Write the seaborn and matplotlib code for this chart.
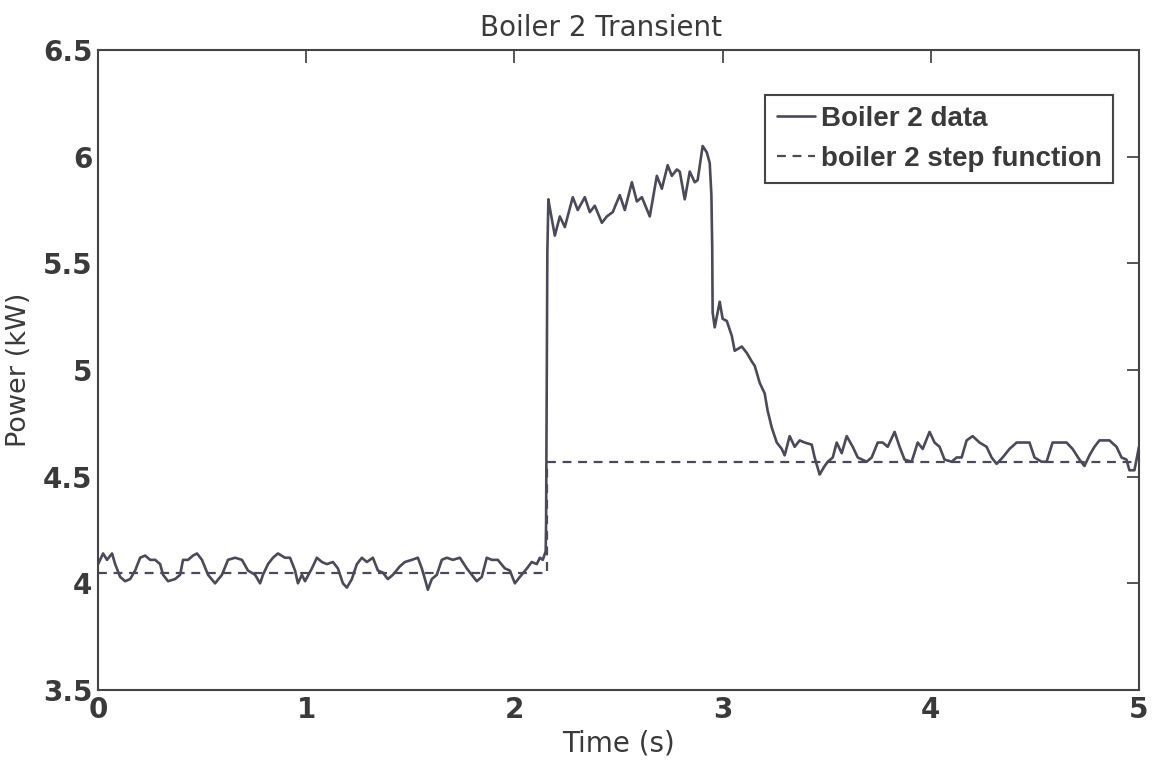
import matplotlib
matplotlib.use("Agg")
import matplotlib.pyplot as plt
import seaborn as sns
import pandas as pd
from matplotlib.ticker import FuncFormatter

# ---- data ----
time_s = [
    0.000, 0.024, 0.043, 0.067, 0.082, 0.106, 0.130, 0.154, 0.178, 0.202,
    0.226, 0.250, 0.274, 0.298, 0.312, 0.336, 0.370, 0.394, 0.408, 0.432,
    0.456, 0.475, 0.499, 0.528, 0.562, 0.595, 0.624, 0.658, 0.691, 0.720,
    0.754, 0.778, 0.792, 0.816, 0.840, 0.864, 0.898, 0.922, 0.946, 0.960,
    0.979, 0.994, 1.027, 1.051, 1.075, 1.099, 1.128, 1.152, 1.176, 1.195,
    1.219, 1.243, 1.267, 1.291, 1.320, 1.344, 1.368, 1.392, 1.416, 1.450,
    1.474, 1.507, 1.536, 1.555, 1.570, 1.584, 1.603, 1.627, 1.651, 1.675,
    1.704, 1.738, 1.771, 1.795, 1.819, 1.843, 1.867, 1.891, 1.920, 1.954,
    1.978, 2.002, 2.026, 2.060, 2.083, 2.107, 2.122, 2.136, 2.150, 2.152,
    2.155, 2.158, 2.163, 2.166, 2.194, 2.218, 2.242, 2.280, 2.304, 2.338,
    2.362, 2.386, 2.420, 2.444, 2.472, 2.506, 2.530, 2.564, 2.588, 2.612,
    2.650, 2.684, 2.708, 2.736, 2.756, 2.780, 2.794, 2.818, 2.842, 2.866,
    2.880, 2.904, 2.924, 2.938, 2.946, 2.950, 2.952, 2.962, 2.972, 2.986,
    3.000, 3.020, 3.044, 3.058, 3.092, 3.116, 3.140, 3.154, 3.178, 3.202,
    3.216, 3.236, 3.260, 3.284, 3.298, 3.322, 3.346, 3.370, 3.394, 3.428,
    3.442, 3.466, 3.490, 3.505, 3.529, 3.548, 3.572, 3.596, 3.625, 3.649,
    3.692, 3.716, 3.745, 3.769, 3.793, 3.826, 3.850, 3.874, 3.908, 3.937,
    3.961, 3.994, 4.018, 4.042, 4.066, 4.100, 4.124, 4.148, 4.172, 4.201,
    4.234, 4.268, 4.292, 4.316, 4.345, 4.378, 4.412, 4.441, 4.474, 4.498,
    4.532, 4.556, 4.585, 4.618, 4.652, 4.681, 4.714, 4.738, 4.762, 4.786,
    4.810, 4.858, 4.892, 4.916, 4.940, 4.954, 4.978, 5.000,
]
power_kw = [
    4.09, 4.14, 4.11, 4.14, 4.09, 4.03, 4.01, 4.02, 4.06, 4.12,
    4.13, 4.11, 4.11, 4.09, 4.04, 4.01, 4.02, 4.04, 4.11, 4.11,
    4.13, 4.14, 4.11, 4.04, 4.00, 4.04, 4.11, 4.12, 4.11, 4.06,
    4.04, 4.00, 4.04, 4.09, 4.12, 4.14, 4.12, 4.12, 4.06, 4.00,
    4.04, 4.01, 4.07, 4.12, 4.10, 4.09, 4.10, 4.07, 4.00, 3.98,
    4.02, 4.09, 4.12, 4.10, 4.12, 4.06, 4.05, 4.02, 4.04, 4.08,
    4.10, 4.11, 4.12, 4.07, 4.02, 3.97, 4.02, 4.04, 4.11, 4.12,
    4.11, 4.12, 4.07, 4.04, 4.01, 4.03, 4.12, 4.11, 4.11, 4.07,
    4.06, 4.00, 4.03, 4.07, 4.10, 4.09, 4.12, 4.11, 4.15, 4.28,
    4.88, 5.55, 5.80, 5.78, 5.63, 5.72, 5.67, 5.81, 5.75, 5.81,
    5.74, 5.77, 5.69, 5.72, 5.74, 5.82, 5.75, 5.88, 5.79, 5.81,
    5.72, 5.91, 5.85, 5.96, 5.91, 5.94, 5.93, 5.80, 5.93, 5.88,
    5.89, 6.05, 6.02, 5.97, 5.82, 5.57, 5.27, 5.20, 5.25, 5.32,
    5.24, 5.23, 5.16, 5.09, 5.11, 5.08, 5.04, 5.02, 4.94, 4.89,
    4.81, 4.73, 4.66, 4.63, 4.60, 4.69, 4.64, 4.67, 4.66, 4.65,
    4.59, 4.51, 4.55, 4.57, 4.59, 4.66, 4.61, 4.69, 4.64, 4.59,
    4.57, 4.59, 4.66, 4.66, 4.64, 4.71, 4.64, 4.58, 4.57, 4.66,
    4.63, 4.71, 4.66, 4.64, 4.58, 4.57, 4.59, 4.59, 4.67, 4.69,
    4.66, 4.64, 4.59, 4.56, 4.59, 4.63, 4.66, 4.66, 4.66, 4.59,
    4.57, 4.57, 4.66, 4.66, 4.66, 4.63, 4.58, 4.55, 4.60, 4.64,
    4.67, 4.67, 4.64, 4.59, 4.58, 4.53, 4.53, 4.64,
]
step_time_s = [0.0, 2.155, 2.155, 5.0]
step_power_kw = [4.05, 4.05, 4.57, 4.57]

x_ticks = [0, 1, 2, 3, 4, 5]
y_ticks = [3.5, 4.0, 4.5, 5.0, 5.5, 6.0, 6.5]

title_text = "Boiler 2 Transient"
x_label = "Time (s)"
y_label = "Power (kW)"
data_label = "Boiler 2 data"
step_label = "boiler 2 step function"

# ---- build tables ----
df_data = pd.DataFrame({"time": time_s, "power": power_kw})
df_step = pd.DataFrame({"time": step_time_s, "power": step_power_kw})

sns.set_style("white")
plt.rcParams["font.family"] = ["DejaVu Sans"]
text_col = "#3a3a3a"
line_col = "#4a4a58"

fig = plt.figure(figsize=(11.54, 7.67), dpi=100)
ax = fig.add_axes([0.085, 0.1004, 0.902, 0.8344])

sns.lineplot(data=df_data, x="time", y="power", ax=ax, sort=False,
             estimator=None, color=line_col, linewidth=1.9, label=data_label)
sns.lineplot(data=df_step, x="time", y="power", ax=ax, sort=False,
             estimator=None, color=line_col, linewidth=1.6,
             linestyle=(0, (4, 3)), label=step_label)

ax.set_xlim(0, 5)
ax.set_ylim(3.5, 6.5)
ax.set_xticks(x_ticks)
ax.set_yticks(y_ticks)
fmt = FuncFormatter(lambda v, p: ("%g" % v))
ax.xaxis.set_major_formatter(fmt)
ax.yaxis.set_major_formatter(fmt)
ax.tick_params(direction="in", top=True, right=True, length=9, width=1.2,
               colors=text_col, labelsize=20, pad=4)
for lab in ax.get_xticklabels() + ax.get_yticklabels():
    lab.set_fontweight("bold")
for s in ax.spines.values():
    s.set_color("#444444")
    s.set_linewidth(1.5)

ax.set_title(title_text, fontsize=20, color=text_col, pad=10, x=0.483)
ax.set_xlabel(x_label, fontsize=20, color=text_col, labelpad=4)
ax.set_ylabel(y_label, fontsize=19.5, color=text_col, labelpad=8)

leg = ax.legend(loc="upper right", bbox_to_anchor=(0.975, 0.93),
                borderaxespad=0, fancybox=False, framealpha=1,
                edgecolor="#444444", handlelength=1.4,
                handletextpad=0.2, borderpad=0.4, labelspacing=0.5,
                prop={"family": "Liberation Sans", "weight": "bold", "size": 20})
leg.get_frame().set_linewidth(1.5)
for t in leg.get_texts():
    t.set_color(text_col)

fig.savefig("out.png", dpi=100)
